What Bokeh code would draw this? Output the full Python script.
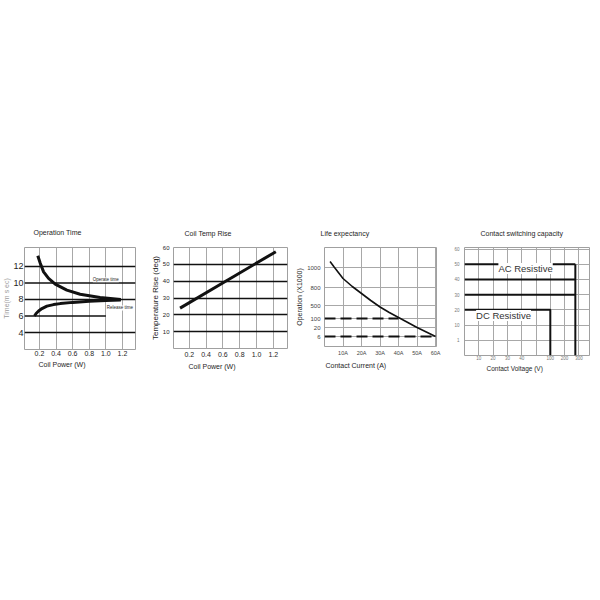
from bokeh.plotting import figure
from bokeh.layouts import row, column
from bokeh.models import FixedTicker, Label, Title, Range1d, Spacer, NumeralTickFormatter
from bokeh.embed import file_html
from bokeh.resources import INLINE

SANS = "Liberation Sans"
INK = "#1e1e1e"

# ---------------- data ----------------
# Operation time
op_x_ticks = [0.2, 0.4, 0.6, 0.8, 1.0, 1.2]
op_y_ticks = [4, 6, 8, 10, 12]
operate_power = [0.18, 0.21, 0.25, 0.31, 0.39, 0.53, 0.69, 0.93, 1.18]
operate_time = [13.3, 12.4, 11.35, 10.55, 9.86, 9.13, 8.64, 8.24, 8.0]
release_power = [0.14, 0.16, 0.19, 0.23, 0.29, 0.37, 0.45, 0.6, 0.8, 1.0, 1.18]
release_time = [6.0, 6.3, 6.6, 6.9, 7.2, 7.38, 7.5, 7.65, 7.78, 7.88, 7.95]

# Coil temperature rise
temp_x_ticks = [0.2, 0.4, 0.6, 0.8, 1.0, 1.2]
temp_y_ticks = [10, 20, 30, 40, 50, 60]
temp_power = [0.09, 1.23]
temp_rise = [24, 57.5]

# Life expectancy (operations axis is non-linear: label -> axis position)
life_x_ticks = [10, 20, 30, 40, 50, 60]
life_x_labels = ["10A", "20A", "30A", "40A", "50A", "60A"]
life_y_labels = ["6", "20", "100", "500", "800", "1000"]
life_y_pos = [10, 19, 28, 41, 59, 79]
life_current = [3, 5, 10, 15, 20, 25, 30, 35, 40, 45, 50, 55, 60]
life_ops_pos = [85, 80, 68, 60, 53, 46, 39.5, 34, 29, 24, 19, 14.5, 10]
limit_labels = ["100", "6"]
limit_current = [40, 60]

# Contact switching capacity (category-spaced axes)
volt_labels = ["10", "20", "30", "40", "", "100", "200", "300"]
amp_labels = ["1", "10", "20", "30", "40", "50", "60"]
ac_amps = ["50", "40", "30"]
ac_volt_pos = 7.75
dc_amps = ["20"]
dc_volt = "100"


def make(fw, fh, xr, yr, left, right, top, bottom, gap="4px"):
    p = figure(frame_width=fw, frame_height=fh, x_range=Range1d(*xr), y_range=Range1d(*yr),
               output_backend="svg", toolbar_location=None,
               min_border_left=left, min_border_right=right,
               min_border_top=top, min_border_bottom=bottom)
    p.outline_line_color = "#a0a0a0"
    p.outline_line_width = 1
    p.border_fill_color = "white"
    p.background_fill_color = "white"
    for ax in (p.xaxis[0], p.yaxis[0]):
        ax.axis_line_color = None
        ax.major_tick_line_color = None
        ax.minor_tick_line_color = None
        ax.major_tick_out = 0
        ax.major_tick_in = 0
        ax.minor_tick_out = 0
        ax.minor_tick_in = 0
        ax.major_label_standoff = 3
        ax.axis_label_standoff = 1
        ax.major_label_text_font = SANS
        ax.axis_label_text_font = SANS
        ax.axis_label_text_font_style = "normal"
        ax.major_label_text_color = INK
        ax.axis_label_text_color = INK
    p.xgrid.grid_line_color = "#a8a8a8"
    p.ygrid.grid_line_color = "#a8a8a8"
    p.title.text_font = SANS
    p.title.text_font_style = "normal"
    p.title.text_font_size = "7px"
    p.title.text_color = INK
    p.title.align = "left"
    p.title.standoff = 7
    # thin empty band between the frame and the title
    p.add_layout(Title(text=" ", text_font_size=gap, standoff=0), "above")
    return p


def xlabel(p, text, offset, size="7px", standoff=2):
    p.add_layout(Title(text=text, align="left", offset=offset, text_font=SANS,
                       text_font_style="normal", text_font_size=size,
                       text_color=INK, standoff=standoff), "below")


# ---------- Chart 1: Operation Time ----------
p1 = make(111, 102, (0.02, 1.357), (1.94, 14.3), 24, 8, 30, 36, gap="5px")
p1.title.text = "Operation Time"
p1.title.offset = 9
p1.xaxis.ticker = FixedTicker(ticks=op_x_ticks)
p1.xaxis.formatter = NumeralTickFormatter(format="0.0")
p1.xaxis.major_label_standoff = 1
p1.yaxis.ticker = FixedTicker(ticks=op_y_ticks)
p1.xgrid.ticker = FixedTicker(ticks=op_x_ticks)
p1.ygrid.grid_line_color = None
p1.yaxis.major_label_text_font_size = "9px"
p1.yaxis.major_label_standoff = 1
p1.yaxis.axis_label_standoff = 0
p1.xaxis.major_label_text_font_size = "7px"
p1.yaxis.axis_label = "Time(m s ec)"
p1.yaxis.axis_label_text_font_size = "7px"
p1.yaxis.axis_label_text_color = "#9a9a9a"
ends = [p1.x_range.end if t != 6 else 1.0 for t in op_y_ticks]
p1.segment(x0=[p1.x_range.start] * len(op_y_ticks), y0=op_y_ticks, x1=ends, y1=op_y_ticks,
           line_color="#111", line_width=1.4)
p1.line(operate_power, operate_time, line_color="#111", line_width=3)
p1.line(release_power, release_time, line_color="#111", line_width=3)
p1.add_layout(Label(x=1.0, y=10.4, text="Operate time", text_font=SANS, text_font_size="4.5px",
                    text_align="center", text_baseline="middle", text_color=INK,
                    background_fill_color="white"))
p1.add_layout(Label(x=1.17, y=6.97, text="Release time", text_font=SANS, text_font_size="4.5px",
                    text_align="center", text_baseline="middle", text_color=INK,
                    background_fill_color="white"))
xlabel(p1, "Coil Power (W)", 14, standoff=1)

# ---------- Chart 2: Coil Temp Rise ----------
p2 = make(114, 101, (0.012, 1.369), (0, 60), 30, 3, 31, 36)
p2.title.text = "Coil Temp Rise"
p2.title.offset = 11
p2.xaxis.ticker = FixedTicker(ticks=temp_x_ticks)
p2.xaxis.formatter = NumeralTickFormatter(format="0.0")
p2.yaxis.ticker = FixedTicker(ticks=temp_y_ticks)
p2.xgrid.ticker = FixedTicker(ticks=temp_x_ticks)
p2.ygrid.ticker = FixedTicker(ticks=temp_y_ticks)
p2.ygrid.grid_line_color = "#111"
p2.ygrid.grid_line_width = 1.4
p2.yaxis.major_label_text_font_size = "6px"
p2.yaxis.major_label_standoff = 4
p2.yaxis.axis_label_standoff = 0
p2.xaxis.major_label_text_font_size = "7px"
p2.yaxis.axis_label = "Temperature Rise (deg)"
p2.yaxis.axis_label_text_font_size = "8px"
p2.line(temp_power, temp_rise, line_color="#111", line_width=3)
xlabel(p2, "Coil Power (W)", 15)

# ---------- Chart 3: Life expectancy ----------
p3 = make(112, 99, (0, 60.5), (0, 99), 34, 6, 33, 36)
p3.title.text = "Life expectancy"
p3.title.offset = -4
p3.xaxis.ticker = FixedTicker(ticks=life_x_ticks)
p3.xaxis.major_label_overrides = {t: s for t, s in zip(life_x_ticks, life_x_labels)}
p3.yaxis.ticker = FixedTicker(ticks=life_y_pos)
p3.yaxis.major_label_overrides = {t: s for t, s in zip(life_y_pos, life_y_labels)}
p3.xgrid.ticker = FixedTicker(ticks=life_x_ticks)
p3.ygrid.ticker = FixedTicker(ticks=life_y_pos)
p3.xaxis.major_label_text_font_size = "5.5px"
p3.yaxis.major_label_text_font_size = "6px"
p3.yaxis.major_label_standoff = 4
p3.yaxis.axis_label_standoff = 1
p3.xaxis.major_label_text_color = "#444"
p3.yaxis.major_label_text_color = "#444"
p3.yaxis.axis_label = "Operation (X1000)"
p3.yaxis.axis_label_text_font_size = "7px"
p3.line(life_current, life_ops_pos, line_color="#111", line_width=1.6)
lim_y = [life_y_pos[life_y_labels.index(s)] for s in limit_labels]
p3.segment(x0=[0] * len(lim_y), y0=lim_y, x1=limit_current, y1=lim_y,
           line_color="#111", line_width=1.8, line_dash="11 5")
xlabel(p3, "Contact Current (A)", 1, "7px")

# ---------- Chart 4: Contact switching capacity ----------
xpos = list(range(1, len(volt_labels) + 1))
ypos = list(range(1, len(amp_labels) + 1))
p4 = make(125, 108, (0, 8.74), (0, 7.1), 22, 3, 30, 30)
p4.title.text = "Contact switching capacity"
p4.title.offset = 16
lab_x = [x for x, s in zip(xpos, volt_labels) if s]
p4.xaxis.ticker = FixedTicker(ticks=lab_x)
p4.xaxis.major_label_overrides = {x: s for x, s in zip(xpos, volt_labels) if s}
p4.yaxis.ticker = FixedTicker(ticks=ypos)
p4.yaxis.major_label_overrides = {y: s for y, s in zip(ypos, amp_labels)}
p4.xgrid.ticker = FixedTicker(ticks=xpos)
p4.ygrid.ticker = FixedTicker(ticks=ypos)
p4.xaxis.major_label_text_font_size = "4.5px"
p4.yaxis.major_label_text_font_size = "4.5px"
p4.xaxis.major_label_standoff = 0
p4.yaxis.major_label_standoff = 5
p4.xaxis.major_label_text_color = "#777"
p4.yaxis.major_label_text_color = "#777"
ac_y = [ypos[amp_labels.index(a)] for a in ac_amps]
p4.segment(x0=[0] * len(ac_y), y0=ac_y, x1=[ac_volt_pos] * len(ac_y), y1=ac_y,
           line_color="#111", line_width=2)
p4.line([ac_volt_pos, ac_volt_pos], [max(ac_y), 0], line_color="#111", line_width=2)
dc_y = ypos[amp_labels.index(dc_amps[0])]
dc_x = xpos[volt_labels.index(dc_volt)]
p4.line([0, dc_x, dc_x], [dc_y, dc_y, 0], line_color="#111", line_width=2)
p4.add_layout(Label(x=4.27, y=5.72, text="AC Resistive", text_font=SANS, text_font_size="9.5px",
                    text_align="center", text_baseline="middle", text_color="#333",
                    background_fill_color="white"))
p4.add_layout(Label(x=2.73, y=2.63, text="DC Resistive", text_font=SANS, text_font_size="9.5px",
                    text_align="center", text_baseline="middle", text_color="#333",
                    background_fill_color="white"))
xlabel(p4, "Contact Voltage (V)", 22, "6.5px", standoff=0)

layout = column(Spacer(height=214, width=10), row(p1, p2, p3, p4))
open("out.html", "w").write(file_html(layout, INLINE))
